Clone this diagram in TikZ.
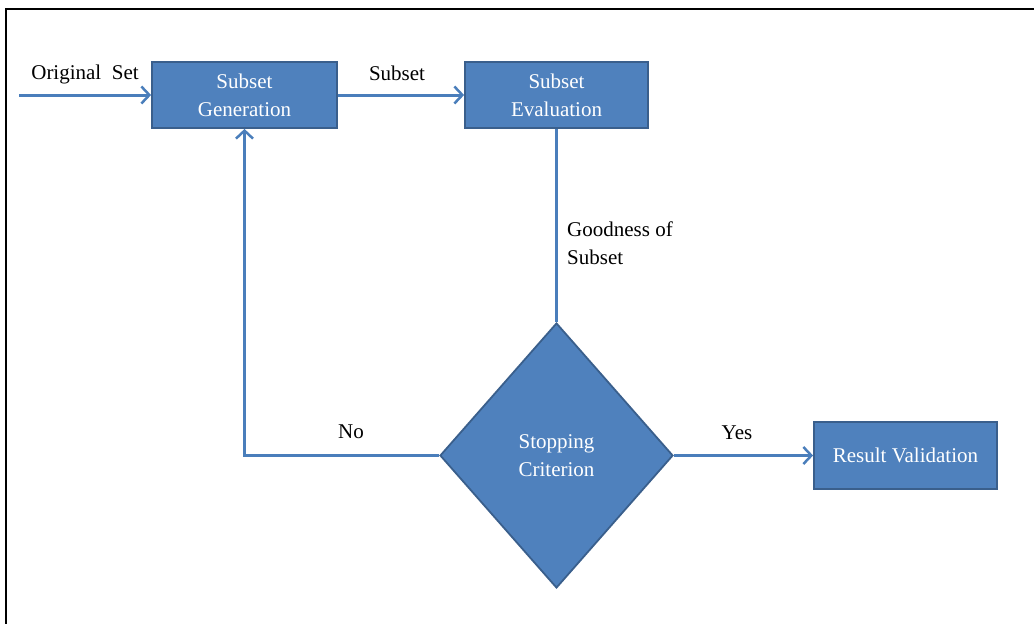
\documentclass[tikz,border=0pt]{standalone}
\usepackage{fontspec}
\setmainfont{Liberation Serif}
\usetikzlibrary{shapes.geometric,arrows.meta}
\definecolor{boxfill}{HTML}{4F81BD}
\definecolor{boxedge}{HTML}{3A5F8C}
\definecolor{flow}{HTML}{4A7EBB}
\tikzset{
  stepbox/.style={draw=boxedge, line width=1.8pt, fill=boxfill, text=white,
    align=center, inner sep=2pt, font=\fontsize{21}{28}\selectfont},
  decision/.style={stepbox, diamond},
  flowline/.style={draw=flow, line width=3pt},
  flowarrow/.style={flowline, -{Straight Barb[length=8pt,width=17pt,line width=2.5pt]}},
  lbl/.style={text=black, inner sep=0pt, font=\fontsize{21}{28}\selectfont}
}
\begin{document}
\begin{tikzpicture}[x=1pt, y=-1pt]
  \useasboundingbox (0,0) rectangle (1034,624);
  % frame edges
  \draw[line width=2.5pt, black] (6,624) -- (6,9) -- (1034,9);

  % process steps
  \node[stepbox, minimum width=185pt, minimum height=66pt] (gen) at (244.5,95) {Subset\\Generation};
  \node[stepbox, minimum width=183pt, minimum height=66pt] (eval) at (556.5,95) {Subset\\Evaluation};
  \node[decision, minimum width=233pt, minimum height=265pt] (stop) at (556.5,455.5) {Stopping\\Criterion};
  \node[stepbox, minimum width=183pt, minimum height=67pt] (res) at (905.5,455.5) {Result Validation};

  % connectors
  \coordinate (in) at (19,95);
  \draw[flowarrow] (in) -- (gen.west);
  \draw[flowarrow] (gen.east) -- (eval.west);
  \draw[flowline] (eval.south) -- (stop.north);
  \draw[flowarrow] (stop.west) -| (gen.south);
  \draw[flowarrow] (stop.east) -- (res.west);

  % labels
  \node[lbl] (lorig) at (85,74) {Original\ \ Set};
  \node[lbl] (lsub) at (397,73) {Subset};
  \node[lbl, anchor=west, align=left] (lgood) at (567,243) {Goodness of\\Subset};
  \node[lbl] (lno) at (351,432) {No};
  \node[lbl] (lyes) at (737,433) {Yes};
\end{tikzpicture}
\end{document}
